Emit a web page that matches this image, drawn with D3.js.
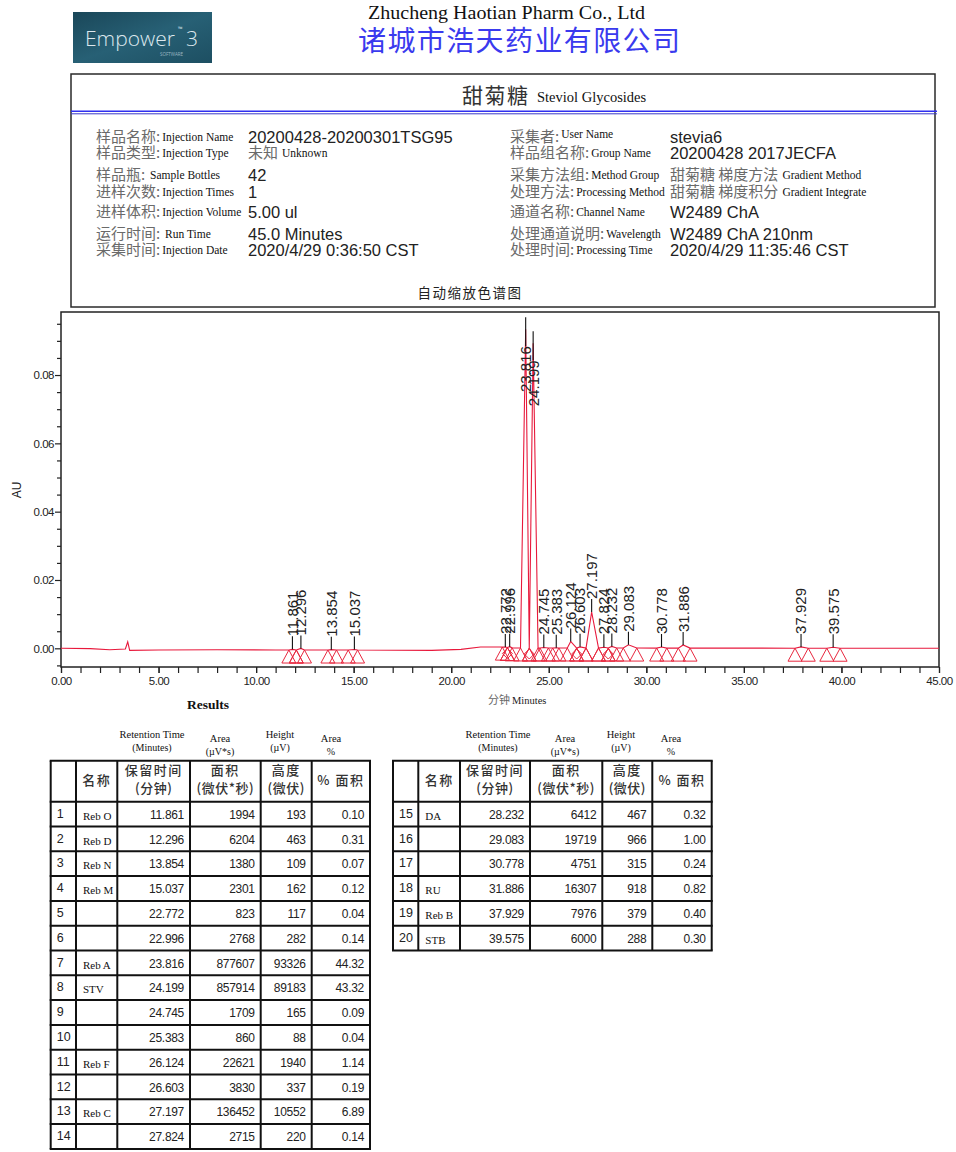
<!DOCTYPE html>
<html><head><meta charset="utf-8">
<script src="https://cdn.jsdelivr.net/npm/d3@7/dist/d3.min.js"></script>
<style>body{margin:0;background:#fff}svg{display:block}</style>
</head><body>
<svg id="c" width="956" height="1152"></svg>
<script>
// ---------------- DATA ----------------
const companyEn = "Zhucheng Haotian Pharm Co., Ltd";
const companyCn = "诸城市浩天药业有限公司";
const titleCn = "甜菊糖";
const titleEn = "Steviol Glycosides";
const chartTitle = "自动缩放色谱图";

const infoLeftCn = ["样品名称:", "样品类型:", "样品瓶:", "进样次数:", "进样体积:", "运行时间:", "采集时间:"];
const infoLeftEn = ["Injection Name", "Injection Type", " Sample Bottles", "Injection Times", "Injection Volume", " Run Time", "Injection Date"];
const infoLeftVal = ["20200428-20200301TSG95", "", "42", "1", "5.00 ul", "45.0 Minutes", "2020/4/29 0:36:50 CST"];
const infoLeftValCn = ["", "未知", "", "", "", "", ""];
const infoLeftValEn = ["", "Unknown", "", "", "", "", ""];

const infoRightCn = ["采集者:", "样品组名称:", "采集方法组:", "处理方法:", "通道名称:", "处理通道说明:", "处理时间:"];
const infoRightEn = ["User Name", "Group Name", "Method Group", "Processing Method", "Channel Name", "Wavelength", "Processing Time"];
const infoRightVal = ["stevia6", "20200428 2017JECFA", "", "", "W2489 ChA", "W2489 ChA 210nm", "2020/4/29 11:35:46 CST"];
const infoRightValCn = ["", "", "甜菊糖 梯度方法", "甜菊糖 梯度积分", "", "", ""];
const infoRightValEn = ["", "", "Gradient Method", "Gradient Integrate", "", "", ""];

const peakRT = [11.861, 12.296, 13.854, 15.037, 22.772, 22.996, 23.816, 24.199, 24.745, 25.383, 26.124, 26.603, 27.197, 27.824, 28.232, 29.083, 30.778, 31.886, 37.929, 39.575];
const peakName = ["Reb O", "Reb D", "Reb N", "Reb M", "", "", "Reb A", "STV", "", "", "Reb F", "", "Reb C", "", "DA", "", "", "RU", "Reb B", "STB"];
const peakArea = [1994, 6204, 1380, 2301, 823, 2768, 877607, 857914, 1709, 860, 22621, 3830, 136452, 2715, 6412, 19719, 4751, 16307, 7976, 6000];
const peakHeight = [193, 463, 109, 162, 117, 282, 93326, 89183, 165, 88, 1940, 337, 10552, 220, 467, 966, 315, 918, 379, 288];
const peakPct = ["0.10", "0.31", "0.07", "0.12", "0.04", "0.14", "44.32", "43.32", "0.09", "0.04", "1.14", "0.19", "6.89", "0.14", "0.32", "1.00", "0.24", "0.82", "0.40", "0.30"];
// integration start / end (minutes)
const peakStart = [11.68, 12.06, 13.68, 14.72, 22.62, 22.88, 23.55, 24.00, 24.55, 25.20, 25.95, 26.43, 26.91, 27.55, 28.05, 28.82, 30.53, 31.64, 37.62, 39.25];
const peakEnd = [12.06, 12.48, 14.12, 15.20, 22.88, 23.12, 24.00, 24.45, 24.98, 25.52, 26.43, 26.91, 27.55, 28.05, 28.48, 29.51, 31.05, 32.24, 38.30, 39.93];
const valleyMarks = [22.88, 24.00, 26.43, 28.05];

// detector baseline (minutes, AU)
const baseT = [0, 1.5, 2.5, 3.3, 3.42, 3.52, 5, 8, 11, 15, 19, 20.5, 21.5, 22.5, 23.2, 45];
const baseAU = [0, -0.0001, -0.0004, -0.0002, 0.0019, -0.0006, -0.0005, -0.0004, -0.0005, -0.0005, -0.0006, -0.0003, 0.0004, 0.0004, 0.0001, 0.0];

const xTickMajor = [0, 5, 10, 15, 20, 25, 30, 35, 40, 45];
const xTickMinor = d3.range(0, 46);
const yTickMajor = [0, 0.02, 0.04, 0.06, 0.08];
const yTickMinor = [-0.005, 0.005, 0.01, 0.015, 0.025, 0.03, 0.035, 0.045, 0.05, 0.055, 0.065, 0.07, 0.075, 0.085, 0.09, 0.095];

const colHeadCn1 = ["", "名称", "保留时间", "面积", "高度", "% 面积"];
const colHeadCn2 = ["", "", "(分钟)", "(微伏*秒)", "(微伏)", ""];

// ---------------- DRAW ----------------
const svg = d3.select("#c");
const CJK = "'Noto Sans CJK SC', sans-serif";
const SERIF = "'Liberation Serif', 'Times New Roman', serif";
const SANS = "'Liberation Sans', Arial, sans-serif";

// logo
const defs = svg.append("defs");
const lg = defs.append("linearGradient").attr("id", "lg").attr("x1", 0).attr("x2", 1).attr("y1", 0).attr("y2", 1);
lg.append("stop").attr("offset", "0").attr("stop-color", "#1a4759");
lg.append("stop").attr("offset", "0.5").attr("stop-color", "#276075");
lg.append("stop").attr("offset", "1").attr("stop-color", "#1d4f62");
svg.append("rect").attr("x", 73).attr("y", 12).attr("width", 139).attr("height", 51).attr("fill", "url(#lg)");
svg.append("text").attr("x", 85).attr("y", 46).attr("font-family", "'Open Sans', sans-serif").attr("font-size", 21).attr("font-weight", 300).attr("fill", "#dde8ee").text("Empower");
svg.append("text").attr("x", 178).attr("y", 31).attr("font-family", "'Open Sans', sans-serif").attr("font-size", 6).attr("fill", "#dde8ee").text("™");
svg.append("text").attr("x", 186).attr("y", 46).attr("font-family", "'Open Sans', sans-serif").attr("font-size", 21).attr("font-weight", 300).attr("fill", "#dde8ee").text("3");
svg.append("text").attr("x", 160).attr("y", 56).attr("font-family", "'Open Sans', sans-serif").attr("font-size", 4.5).attr("fill", "#9db7c2").text("SOFTWARE");

// company
svg.append("text").attr("x", 368).attr("y", 19).attr("font-family", SERIF).attr("font-size", 18).attr("fill", "#111")
  .attr("textLength", 277).attr("lengthAdjust", "spacingAndGlyphs").text(companyEn);
svg.append("text").attr("x", 358).attr("y", 51).attr("font-family", CJK).attr("font-size", 28).attr("fill", "#3a3aee")
  .attr("textLength", 322).attr("lengthAdjust", "spacing").text(companyCn);

// info box
svg.append("rect").attr("x", 71).attr("y", 74).attr("width", 864).attr("height", 233).attr("fill", "none").attr("stroke", "#2a2a2a").attr("stroke-width", 1.5);
svg.append("line").attr("x1", 71).attr("x2", 937).attr("y1", 111.2).attr("y2", 111.2).attr("stroke", "#2e2ef0").attr("stroke-width", 1.4);
svg.append("line").attr("x1", 71).attr("x2", 937).attr("y1", 113.8).attr("y2", 113.8).attr("stroke", "#3a3ac8").attr("stroke-width", 1);
svg.append("text").attr("x", 462).attr("y", 103).attr("font-family", CJK).attr("font-size", 21).attr("letter-spacing", 1.5).attr("fill", "#333").text(titleCn);
svg.append("text").attr("x", 537).attr("y", 102).attr("font-family", SERIF).attr("font-size", 14.5).attr("fill", "#111").text(titleEn);

const rowY = [142, 158, 180, 197, 217, 239, 255];
function infoRow(x, vx, cn, en, val, valCn, valEn, i, raiseEn) {
  const t = svg.append("text").attr("x", x).attr("y", rowY[i]).attr("font-family", CJK).attr("font-size", 15).attr("fill", "#6a6a6a");
  t.append("tspan").text(cn);
  t.append("tspan").attr("font-family", SERIF).attr("font-size", 11.5).attr("fill", "#111").attr("dx", 2)
    .attr("dy", raiseEn ? -4 : -1).text(en);
  if (val) {
    svg.append("text").attr("x", vx).attr("y", rowY[i] + 1).attr("font-family", SANS).attr("font-size", 16.5).attr("fill", "#222").text(val);
  }
  if (valCn) {
    const v = svg.append("text").attr("x", vx).attr("y", rowY[i]).attr("font-family", CJK).attr("font-size", 15).attr("fill", "#6a6a6a");
    v.append("tspan").text(valCn);
    v.append("tspan").attr("font-family", SERIF).attr("font-size", 11.5).attr("fill", "#111").attr("dx", 4).attr("dy", -1).text(valEn);
  }
}
infoLeftCn.forEach((d, i) => infoRow(96, 248, d, infoLeftEn[i], infoLeftVal[i], infoLeftValCn[i], infoLeftValEn[i], i, false));
infoRightCn.forEach((d, i) => infoRow(510, 670, d, infoRightEn[i], infoRightVal[i], infoRightValCn[i], infoRightValEn[i], i, i === 0));

svg.append("text").attr("x", 470).attr("y", 298).attr("text-anchor", "middle").attr("font-family", CJK).attr("font-size", 13.5)
  .attr("letter-spacing", 1.5).attr("fill", "#222").text(chartTitle);

// ---------------- CHART ----------------
const x = d3.scaleLinear().domain([0, 45]).range([61, 939]);
const y = d3.scaleLinear().domain([-0.00547, 0.09845]).range([667, 312]);
const bl = d3.scaleLinear().domain(baseT).range(baseAU);

// frame
svg.append("rect").attr("x", 61).attr("y", 312).attr("width", 878).attr("height", 355).attr("fill", "none").attr("stroke", "#222").attr("stroke-width", 1.5);

// x axis
const gx = svg.append("g").attr("transform", "translate(0,667)");
gx.call(d3.axisBottom(x).tickValues(xTickMinor).tickSize(6).tickSizeOuter(0).tickFormat(""));
gx.call(g => g.select(".domain").remove());
const gx2 = svg.append("g").attr("transform", "translate(0,667)");
gx2.call(d3.axisBottom(x).tickValues(xTickMajor).tickSize(6).tickSizeOuter(0).tickPadding(4).tickFormat(d3.format(".2f")));
gx2.select(".domain").remove();
svg.selectAll("g.tick line").attr("stroke", "#222").attr("stroke-width", 1.2);
gx2.selectAll("text").attr("font-family", SANS).attr("font-size", 11.5).attr("letter-spacing", -0.5).attr("fill", "#222");

// y axis
const gy = svg.append("g").attr("transform", "translate(61,0)");
gy.call(d3.axisLeft(y).tickValues(yTickMinor).tickSize(4).tickSizeOuter(0).tickFormat(""));
gy.select(".domain").remove();
const gy2 = svg.append("g").attr("transform", "translate(61,0)");
gy2.call(d3.axisLeft(y).tickValues(yTickMajor).tickSize(6).tickSizeOuter(0).tickPadding(1).tickFormat(d3.format(".2f")));
gy2.select(".domain").remove();
svg.selectAll("g.tick line").attr("stroke", "#222").attr("stroke-width", 1.2);
gy2.selectAll("text").attr("font-family", SANS).attr("font-size", 11.5).attr("letter-spacing", -0.5).attr("fill", "#222");

svg.append("text").attr("transform", "translate(21,490) rotate(-90)").attr("text-anchor", "middle")
  .attr("font-family", SANS).attr("font-size", 12).attr("fill", "#222").text("AU");
svg.append("text").attr("x", 187).attr("y", 709).attr("font-family", SERIF).attr("font-weight", "bold").attr("font-size", 13.5).attr("fill", "#111").text("Results");
const xl = svg.append("text").attr("x", 488).attr("y", 704).attr("font-family", CJK).attr("font-size", 11).attr("fill", "#666");
xl.append("tspan").text("分钟");
xl.append("tspan").attr("font-family", SERIF).attr("font-size", 10.5).attr("fill", "#222").attr("dx", 2).text("Minutes");

// markers (triangles at integration start/end)
const tri = t => { const px = x(t), py = y(bl(t)); return `M${px},${py} L${px - 7},${py + 13} L${px + 7},${py + 13} Z`; };
const markTimes = peakStart.map((s, i) => [s, peakEnd[i]]).flat();
svg.append("g").selectAll("path").data(markTimes).join("path").attr("d", tri)
  .attr("fill", "none").attr("stroke", "#e8283f").attr("stroke-width", 1);
svg.append("g").selectAll("path").data(valleyMarks).join("path")
  .attr("d", t => { const px = x(t), py = y(bl(t)) + 6; return `M${px},${py - 5} L${px + 5},${py} L${px},${py + 5} L${px - 5},${py} Z`; })
  .attr("fill", "none").attr("stroke", "#e8283f").attr("stroke-width", 1);

// trace: baseline points outside peaks + peak start/apex/end
const inPeak = t => peakStart.some((s, i) => t > s && t < peakEnd[i]);
let pts = baseT.map((t, i) => [t, baseAU[i]]).filter(p => !inPeak(p[0]));
peakRT.forEach((rt, i) => {
  pts.push([peakStart[i], bl(peakStart[i])]);
  pts.push([rt, bl(rt) + peakHeight[i] / 1e6]);
  pts.push([peakEnd[i], bl(peakEnd[i])]);
});
pts.sort((a, b) => a[0] - b[0]);
svg.append("path").datum(pts).attr("fill", "none").attr("stroke", "#e8193c").attr("stroke-width", 1.1)
  .attr("d", d3.line().x(d => x(d[0])).y(d => y(d[1])));

// peak labels
const lab = svg.append("g");
peakRT.forEach((rt, i) => {
  const px = x(rt);
  const ay = y(bl(rt) + peakHeight[i] / 1e6);
  const big = peakHeight[i] / 1e6 > 0.05;
  const y1 = big ? ay - 12 : ay, y2 = big ? ay + 17 : ay - 13;
  lab.append("line").attr("x1", px).attr("x2", px).attr("y1", y1).attr("y2", y2).attr("stroke", "#111").attr("stroke-width", 1.1);
  lab.append("text").attr("transform", `translate(${px},${y2}) rotate(-90)`).attr("dy", "0.36em")
    .attr("text-anchor", big ? "end" : "start").attr("font-family", SANS).attr("font-size", 15).attr("fill", "#222")
    .text(d3.format(".3f")(rt));
});

// ---------------- TABLES ----------------
const topHdr = [["Retention Time", "(Minutes)"], ["Area", "(µV*s)"], ["Height", "(µV)"], ["Area", "%"]];
function table(cols, rows, hdrX) {
  const g = svg.append("g");
  const top = 760.7, hb = 801.7, rh = 24.8;
  const bottom = hb + rows.length * rh;
  topHdr.forEach((h, k) => {
    g.append("text").attr("x", hdrX[k]).attr("y", k === 1 || k === 3 ? 742 : 738).attr("text-anchor", "middle")
      .attr("font-family", SERIF).attr("font-size", 10.5).attr("fill", "#111").text(h[0]);
    g.append("text").attr("x", hdrX[k]).attr("y", k === 1 || k === 3 ? 755 : 751).attr("text-anchor", "middle")
      .attr("font-family", SERIF).attr("font-size", 10).attr("fill", "#111").text(h[1]);
  });
  cols.forEach(cx => g.append("line").attr("x1", cx).attr("x2", cx).attr("y1", top).attr("y2", bottom).attr("stroke", "#111").attr("stroke-width", 2));
  [top, hb].concat(rows.map((r, k) => hb + (k + 1) * rh)).forEach(ly =>
    g.append("line").attr("x1", cols[0] - 1).attr("x2", cols[cols.length - 1] + 1).attr("y1", ly).attr("y2", ly).attr("stroke", "#111").attr("stroke-width", 2));
  colHeadCn1.forEach((h, k) => {
    if (!h) return;
    const cx = (cols[k] + cols[k + 1]) / 2;
    const two = !!colHeadCn2[k];
    g.append("text").attr("x", cx).attr("y", two ? 775 : 785).attr("text-anchor", "middle").attr("font-family", CJK)
      .attr("font-size", 13).attr("font-weight", 500).attr("letter-spacing", 1.5).attr("fill", "#333").text(h);
    if (two) g.append("text").attr("x", cx).attr("y", 793).attr("text-anchor", "middle").attr("font-family", CJK)
      .attr("font-size", 13).attr("font-weight", 500).attr("letter-spacing", 0.5).attr("fill", "#333").text(colHeadCn2[k]);
  });
  rows.forEach((i, k) => {
    const by = hb + k * rh + 17;
    g.append("text").attr("x", cols[0] + 6).attr("y", by - 1).attr("font-family", SANS).attr("font-size", 12.5).attr("fill", "#222").text(i + 1);
    g.append("text").attr("x", cols[1] + 7).attr("y", by + 1).attr("font-family", SERIF).attr("font-size", 11).attr("fill", "#111").text(peakName[i]);
    const vals = [d3.format(".3f")(peakRT[i]), peakArea[i], peakHeight[i], peakPct[i]];
    vals.forEach((v, j) => g.append("text").attr("x", cols[j + 3] - 6).attr("y", by).attr("text-anchor", "end")
      .attr("font-family", SANS).attr("font-size", 12).attr("letter-spacing", -0.3).attr("fill", "#222").text(v));
  });
}
table([50.7, 76, 117.3, 190, 260.7, 311.7, 370], d3.range(0, 14), [152, 220, 280, 331]);
table([393, 418.3, 460, 530, 602.3, 652.3, 711.7], d3.range(14, 20), [498, 565, 621, 671]);
</script>
</body></html>
